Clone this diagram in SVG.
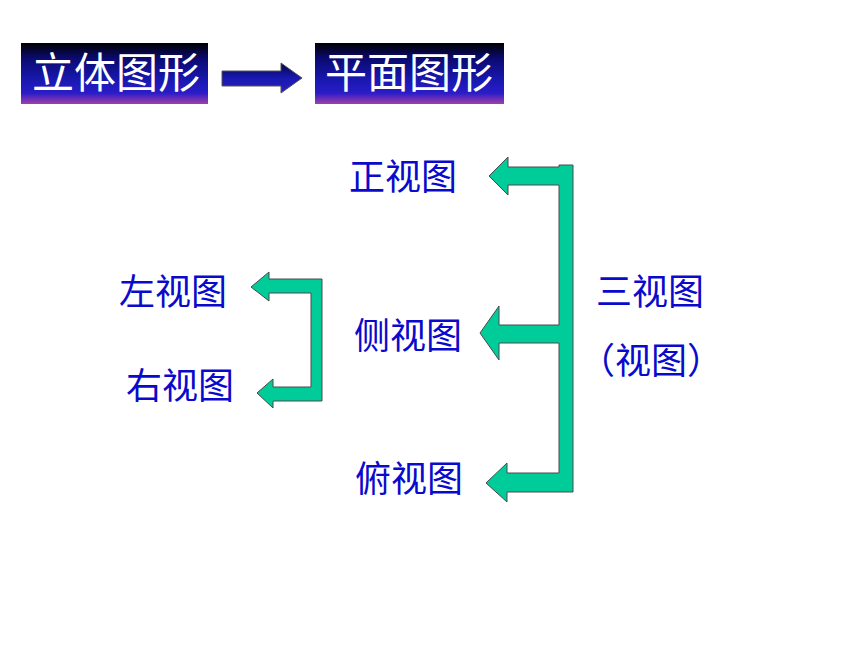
<svg xmlns="http://www.w3.org/2000/svg" width="860" height="645" viewBox="0 0 860 645">
<defs>
<linearGradient id="boxg" x1="0" y1="0" x2="0" y2="1">
<stop offset="0" stop-color="#000000"/>
<stop offset="0.25" stop-color="#0a0a70"/>
<stop offset="0.6" stop-color="#1818b0"/>
<stop offset="0.82" stop-color="#2a1cc8"/>
<stop offset="1" stop-color="#a040a8"/>
</linearGradient>
<linearGradient id="arrg" x1="0" y1="0" x2="0" y2="1">
<stop offset="0" stop-color="#05054a"/>
<stop offset="0.5" stop-color="#1818b0"/>
<stop offset="1" stop-color="#2a20c0"/>
</linearGradient>
<style>
.box{fill:url(#boxg);}
.title{font-family:"Noto Sans CJK SC","Liberation Sans",sans-serif;font-size:42px;fill:#ffffff;text-anchor:middle;}
.lbl{font-family:"Noto Sans CJK SC","Liberation Sans",sans-serif;font-size:36px;fill:#0a0acc;text-anchor:middle;}
.br{fill:#00cc99;stroke:#4a4a4a;stroke-width:1;stroke-linejoin:miter;}
</style>
</defs>
<rect width="860" height="645" fill="#ffffff"/>
<g id="node-solid">
<rect class="box" x="21" y="43" width="187" height="61"/>
<text class="title" x="116" y="88">立体图形</text>
</g>
<g id="node-plane">
<rect class="box" x="315" y="43" width="189" height="61"/>
<text class="title" x="409" y="88">平面图形</text>
</g>
<g id="node-front"><text class="lbl" x="403" y="190">正视图</text></g>
<g id="node-three"><text class="lbl" x="650" y="305">三视图</text><text class="lbl" x="651" y="374">（视图）</text></g>
<g id="node-left"><text class="lbl" x="173" y="305">左视图</text></g>
<g id="node-right"><text class="lbl" x="180" y="399">右视图</text></g>
<g id="node-side"><text class="lbl" x="408" y="349">侧视图</text></g>
<g id="node-top"><text class="lbl" x="409" y="492">俯视图</text></g>
<g id="connectors">
<path d="M222,71 L281,71 L281,63 L302,78 L281,93 L281,86 L222,86 Z" fill="url(#arrg)" stroke="#555" stroke-width="1"/>
<path class="br" d="M573,165 L573,492 L507,492 L507,502 L486,483 L507,463 L507,473 L559,473 L559,343 L499,343 L499,360 L480,333 L499,306 L499,325 L559,325 L559,185 L508,185 L508,195 L489,176 L508,157 L508,167 L559,167 L559,165 Z"/>
<path class="br" d="M322,279 L322,401 L273,401 L273,408 L257,393 L273,379 L273,387 L311,387 L311,293 L269,293 L269,301 L251,287 L269,272 L269,279 Z"/>
</g>
</svg>
